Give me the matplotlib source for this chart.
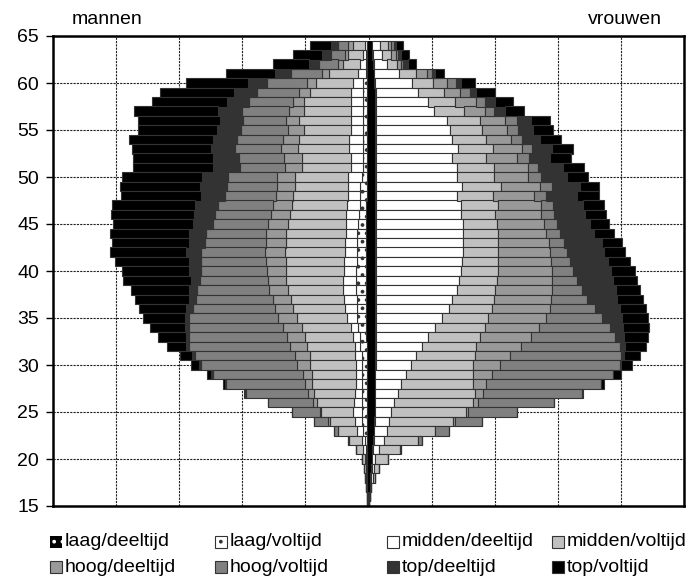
import numpy as np
import matplotlib
matplotlib.use('Agg')
import matplotlib.pyplot as plt
from matplotlib.patches import Rectangle

# ages, top to bottom
ages = np.arange(64, 14, -1)

categories = ['laag/deeltijd', 'laag/voltijd', 'midden/deeltijd', 'midden/voltijd',
              'hoog/deeltijd', 'hoog/voltijd', 'top/deeltijd', 'top/voltijd']

# stacked totals (from the centre outward) per age, in grid units
men_laag_deeltijd = [0.02, 0.03, 0.03, 0.03, 0.03, 0.03, 0.03, 0.03, 0.03, 0.03,
                     0.03, 0.03, 0.03, 0.03, 0.03, 0.03, 0.03, 0.04, 0.04, 0.04,
                     0.04, 0.04, 0.04, 0.04, 0.04, 0.04, 0.04, 0.04, 0.04, 0.04,
                     0.04, 0.04, 0.03, 0.03, 0.03, 0.03, 0.03, 0.03, 0.03, 0.03,
                     0.03, 0.03, 0.03, 0.03, 0.02, 0.02, 0.02, 0.02, 0.01, 0.01]
men_laag_voltijd = [0.03, 0.04, 0.04, 0.04, 0.09, 0.09, 0.09, 0.09, 0.09, 0.09,
                    0.09, 0.09, 0.09, 0.09, 0.11, 0.13, 0.13, 0.14, 0.15, 0.16,
                    0.18, 0.19, 0.19, 0.19, 0.20, 0.20, 0.20, 0.19, 0.19, 0.18,
                    0.16, 0.14, 0.13, 0.11, 0.11, 0.11, 0.11, 0.11, 0.11, 0.11,
                    0.11, 0.09, 0.06, 0.04, 0.035, 0.03, 0.03, 0.025, 0.02, 0.01]
men_midden_deeltijd = [0.06, 0.09, 0.13, 0.16, 0.24, 0.27, 0.28, 0.27, 0.28, 0.28,
                       0.31, 0.31, 0.28, 0.28, 0.32, 0.32, 0.32, 0.34, 0.35, 0.36,
                       0.36, 0.38, 0.38, 0.39, 0.39, 0.40, 0.40, 0.39, 0.38, 0.34,
                       0.28, 0.24, 0.22, 0.22, 0.20, 0.20, 0.20, 0.22, 0.23, 0.24,
                       0.22, 0.19, 0.11, 0.09, 0.06, 0.04, 0.035, 0.03, 0.025, 0.015]
men_midden_voltijd = [0.25, 0.32, 0.41, 0.62, 0.83, 0.93, 1.02, 1.02, 1.10, 1.02,
                      1.10, 1.11, 1.06, 1.06, 1.17, 1.17, 1.20, 1.22, 1.25, 1.27,
                      1.30, 1.31, 1.32, 1.31, 1.31, 1.30, 1.27, 1.23, 1.19, 1.14,
                      1.06, 1.01, 0.97, 0.93, 0.93, 0.90, 0.90, 0.87, 0.82, 0.76,
                      0.61, 0.48, 0.31, 0.20, 0.11, 0.07, 0.06, 0.04, 0.03, 0.02]
men_hoog_deeltijd = [0.32, 0.38, 0.48, 0.74, 0.98, 1.10, 1.20, 1.26, 1.31, 1.27,
                     1.36, 1.38, 1.34, 1.32, 1.45, 1.45, 1.47, 1.51, 1.55, 1.59,
                     1.63, 1.63, 1.64, 1.63, 1.61, 1.59, 1.57, 1.52, 1.48, 1.43,
                     1.35, 1.29, 1.25, 1.17, 1.13, 1.04, 1.01, 0.96, 0.88, 0.77,
                     0.64, 0.48, 0.31, 0.20, 0.11, 0.07, 0.06, 0.04, 0.03, 0.02]
men_hoog_voltijd = [0.48, 0.60, 0.78, 1.23, 1.61, 1.77, 1.89, 2.01, 1.99, 2.02,
                    2.09, 2.12, 2.06, 2.04, 2.22, 2.25, 2.27, 2.38, 2.43, 2.47,
                    2.57, 2.59, 2.66, 2.66, 2.66, 2.67, 2.72, 2.73, 2.78, 2.84,
                    2.85, 2.85, 2.85, 2.75, 2.66, 2.47, 2.26, 1.94, 1.60, 1.21,
                    0.87, 0.55, 0.33, 0.20, 0.11, 0.07, 0.06, 0.04, 0.03, 0.02]
men_top_deeltijd = [0.59, 0.74, 0.94, 1.48, 1.91, 2.13, 2.25, 2.39, 2.36, 2.40,
                    2.47, 2.50, 2.46, 2.46, 2.64, 2.67, 2.66, 2.75, 2.76, 2.78,
                    2.85, 2.85, 2.89, 2.85, 2.84, 2.82, 2.85, 2.85, 2.89, 2.91,
                    2.91, 2.89, 2.89, 2.79, 2.69, 2.50, 2.27, 1.95, 1.60, 1.21,
                    0.87, 0.55, 0.33, 0.20, 0.11, 0.07, 0.06, 0.04, 0.03, 0.02]
men_top_voltijd = [0.93, 1.20, 1.52, 2.26, 2.89, 3.31, 3.43, 3.71, 3.66, 3.66,
                   3.79, 3.75, 3.73, 3.73, 3.91, 3.94, 3.92, 4.07, 4.08, 4.05,
                   4.10, 4.07, 4.10, 4.01, 3.91, 3.89, 3.77, 3.70, 3.63, 3.57,
                   3.46, 3.34, 3.20, 2.99, 2.82, 2.56, 2.30, 1.97, 1.60, 1.21,
                   0.87, 0.55, 0.33, 0.20, 0.11, 0.07, 0.06, 0.04, 0.03, 0.02]

women_laag_deeltijd = [0.05, 0.06, 0.07, 0.08, 0.09, 0.11, 0.11, 0.11, 0.11, 0.11,
                       0.11, 0.11, 0.11, 0.11, 0.11, 0.11, 0.11, 0.11, 0.11, 0.11,
                       0.11, 0.11, 0.11, 0.11, 0.11, 0.11, 0.11, 0.11, 0.11, 0.11,
                       0.11, 0.11, 0.11, 0.11, 0.11, 0.10, 0.10, 0.10, 0.10, 0.10,
                       0.09, 0.08, 0.07, 0.06, 0.05, 0.04, 0.03, 0.02, 0.015, 0.01]
women_laag_voltijd = [0.06, 0.07, 0.08, 0.09, 0.10, 0.12, 0.12, 0.12, 0.12, 0.12,
                      0.12, 0.12, 0.12, 0.12, 0.12, 0.12, 0.12, 0.12, 0.12, 0.12,
                      0.12, 0.12, 0.12, 0.12, 0.12, 0.12, 0.12, 0.12, 0.12, 0.12,
                      0.12, 0.12, 0.12, 0.12, 0.12, 0.11, 0.11, 0.11, 0.11, 0.11,
                      0.10, 0.09, 0.08, 0.07, 0.06, 0.05, 0.04, 0.025, 0.02, 0.01]
women_midden_deeltijd = [0.18, 0.22, 0.29, 0.48, 0.69, 0.79, 0.94, 1.04, 1.24, 1.29,
                         1.33, 1.42, 1.33, 1.41, 1.40, 1.48, 1.40, 1.47, 1.47, 1.49,
                         1.49, 1.50, 1.50, 1.48, 1.47, 1.43, 1.40, 1.33, 1.27, 1.16,
                         1.05, 0.95, 0.85, 0.76, 0.67, 0.59, 0.52, 0.46, 0.41, 0.36,
                         0.33, 0.29, 0.24, 0.16, 0.10, 0.08, 0.07, 0.03, 0.02, 0.01]
women_midden_voltijd = [0.31, 0.36, 0.45, 0.75, 1.03, 1.19, 1.37, 1.52, 1.77, 1.80,
                        1.87, 1.98, 1.87, 1.99, 1.99, 2.10, 1.98, 2.05, 2.01, 2.03,
                        2.05, 2.05, 2.06, 2.05, 2.05, 2.03, 2.01, 1.99, 1.96, 1.90,
                        1.84, 1.77, 1.71, 1.68, 1.65, 1.65, 1.66, 1.68, 1.66, 1.54,
                        1.34, 1.06, 0.78, 0.50, 0.31, 0.17, 0.10, 0.04, 0.02, 0.01]
women_hoog_deeltijd = [0.36, 0.43, 0.52, 0.92, 1.25, 1.45, 1.70, 1.84, 2.16, 2.19,
                       2.26, 2.43, 2.36, 2.52, 2.53, 2.72, 2.63, 2.74, 2.74, 2.78,
                       2.82, 2.86, 2.87, 2.89, 2.91, 2.91, 2.91, 2.89, 2.87, 2.81,
                       2.70, 2.57, 2.41, 2.24, 2.08, 1.96, 1.87, 1.82, 1.73, 1.57,
                       1.37, 1.06, 0.78, 0.50, 0.31, 0.17, 0.10, 0.04, 0.02, 0.01]
women_hoog_voltijd = [0.40, 0.47, 0.55, 1.00, 1.38, 1.61, 1.84, 1.99, 2.35, 2.37,
                      2.44, 2.59, 2.54, 2.69, 2.73, 2.91, 2.82, 2.93, 2.94, 2.98,
                      3.03, 3.10, 3.14, 3.19, 3.24, 3.30, 3.39, 3.47, 3.59, 3.70,
                      3.82, 3.91, 3.98, 4.00, 3.98, 3.88, 3.68, 3.38, 2.94, 2.35,
                      1.80, 1.28, 0.84, 0.51, 0.31, 0.17, 0.10, 0.04, 0.02, 0.01]
women_top_deeltijd = [0.44, 0.52, 0.62, 1.05, 1.47, 1.71, 2.00, 2.16, 2.57, 2.61,
                      2.72, 2.91, 2.87, 3.09, 3.15, 3.35, 3.31, 3.40, 3.43, 3.51,
                      3.58, 3.70, 3.73, 3.79, 3.84, 3.88, 3.93, 3.94, 3.98, 4.01,
                      4.03, 4.05, 4.06, 4.05, 4.00, 3.88, 3.68, 3.38, 2.94, 2.35,
                      1.80, 1.28, 0.84, 0.51, 0.31, 0.17, 0.10, 0.04, 0.02, 0.01]
women_top_voltijd = [0.54, 0.64, 0.76, 1.19, 1.69, 2.00, 2.29, 2.47, 2.87, 2.93,
                     3.05, 3.24, 3.21, 3.42, 3.48, 3.66, 3.65, 3.73, 3.77, 3.81,
                     3.89, 4.02, 4.06, 4.14, 4.22, 4.25, 4.31, 4.35, 4.40, 4.43,
                     4.44, 4.43, 4.39, 4.30, 4.18, 4.00, 3.74, 3.40, 2.94, 2.35,
                     1.80, 1.28, 0.84, 0.51, 0.31, 0.17, 0.10, 0.04, 0.02, 0.01]

men = [men_laag_deeltijd, men_laag_voltijd, men_midden_deeltijd, men_midden_voltijd,
       men_hoog_deeltijd, men_hoog_voltijd, men_top_deeltijd, men_top_voltijd]
women = [women_laag_deeltijd, women_laag_voltijd, women_midden_deeltijd, women_midden_voltijd,
         women_hoog_deeltijd, women_hoog_voltijd, women_top_deeltijd, women_top_voltijd]

colors = ['black', 'white', 'white', '#c0c0c0', '#999999', '#808080', '#333333', 'black']
hatches = ['..', '..', None, None, None, None, None, None]
hatch_colors = ['white', 'black', 'black', 'black', 'black', 'black', 'black', 'black']
edge = '#333333'

plt.rcParams['font.family'] = ['Liberation Sans', 'DejaVu Sans']
FS = 14

fig = plt.figure(figsize=(6.99, 5.83), dpi=100)
ax = fig.add_axes([53/699, 1 - 506/583, 631/699, 470/583])


def draw_side(cums, sign):
    prev = np.zeros(len(ages))
    for i, cum in enumerate(cums):
        cum = np.asarray(cum)
        width = cum - prev
        if i == 0:
            # narrow black core, dots too small to show
            ax.barh(ages, sign * width, left=sign * prev, height=1.0,
                    color=colors[i], zorder=2)
        else:
            with plt.rc_context({'hatch.linewidth': 1.5}):
                ax.barh(ages, sign * width, left=sign * prev, height=1.0,
                        color=colors[i], edgecolor=edge, linewidth=0.8,
                        hatch=hatches[i], zorder=2)
        prev = cum


draw_side(men, -1)
draw_side(women, 1)

ax.set_xlim(-5, 5)
ax.set_ylim(15, 65)
ax.set_xticks(np.arange(-5, 6, 1))
ax.set_yticks(np.arange(15, 66, 5))
ax.tick_params(axis='x', length=0, labelbottom=False)
ax.tick_params(axis='y', length=5, width=1, pad=5, labelsize=FS)
ax.grid(True, color='#222222', linestyle=(0, (2, 1)), linewidth=0.8, zorder=0)
ax.set_axisbelow(True)
for s in ax.spines.values():
    s.set_linewidth(1.8)

fig.text(107/699, 1 - 19/583, 'mannen', ha='center', va='center', fontsize=FS)
fig.text(625/699, 1 - 19/583, 'vrouwen', ha='center', va='center', fontsize=FS)

# legend: two rows of four
leg_x = [50, 215, 387, 552]
leg_y = [542, 567]
W, H = fig.get_size_inches() * fig.dpi
for i, name in enumerate(categories):
    col, row = i % 4, i // 4
    x0 = leg_x[col]
    yc = leg_y[row]
    with plt.rc_context({'hatch.color': hatch_colors[i], 'hatch.linewidth': 1.5}):
        if i == 0:
            rect = Rectangle((x0 / W, 1 - (yc + 6) / H), 12 / W, 12 / H,
                             facecolor=colors[i], hatch=hatches[i],
                             transform=fig.transFigure)
        else:
            rect = Rectangle((x0 / W, 1 - (yc + 6) / H), 12 / W, 12 / H,
                             facecolor=colors[i], edgecolor=edge, linewidth=0.8,
                             hatch=hatches[i], transform=fig.transFigure)
    fig.add_artist(rect)
    fig.text((x0 + 15) / W, 1 - yc / H, name, ha='left', va='center', fontsize=FS)

fig.savefig('out.png', dpi=100)
